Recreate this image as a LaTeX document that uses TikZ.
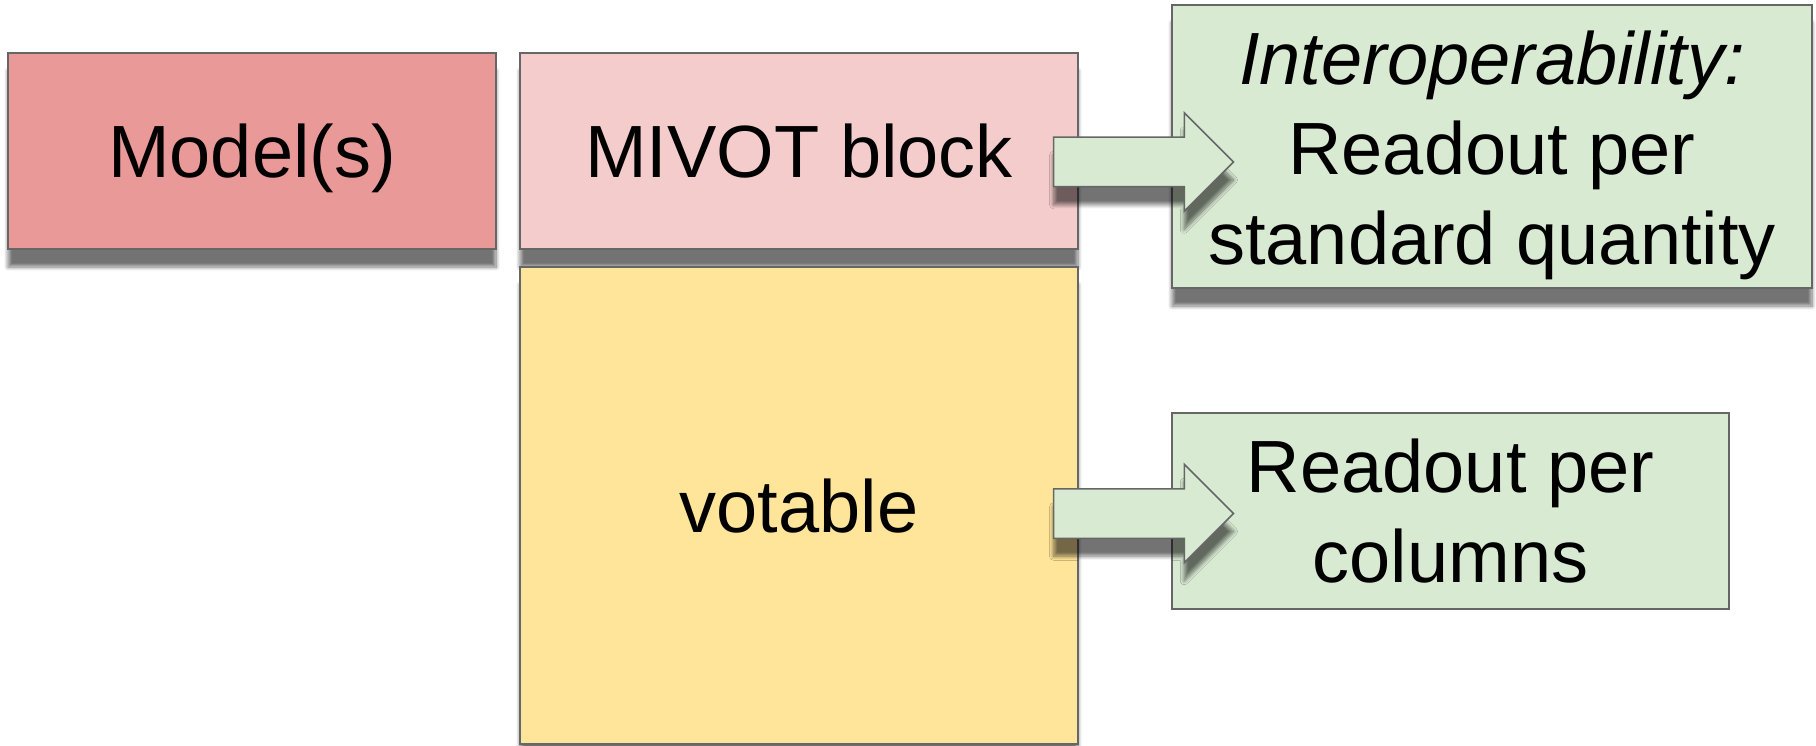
\documentclass[tikz,border=0pt]{standalone}
\usepackage{fontspec}
\setmainfont{Liberation Sans}
\usetikzlibrary{shapes.arrows,shadows.blur,calc}

\definecolor{boxline}{HTML}{666666}
\definecolor{modelfill}{HTML}{EA9999}
\definecolor{mivotfill}{HTML}{F4CCCC}
\definecolor{tablefill}{HTML}{FFE599}
\definecolor{readfill}{HTML}{D9EAD3}

\begin{document}
\begin{tikzpicture}[x=1pt,y=-1pt,
  softshadow/.style={blur shadow={shadow xshift=0pt, shadow yshift=-18pt,
      shadow blur radius=4pt, shadow blur steps=8, shadow opacity=55}},
  panel/.style={rectangle, draw=boxline, line width=1.5pt, inner sep=0pt},
  caption/.style={inner sep=0pt, align=center, anchor=base,
      font=\fontsize{74}{90}\selectfont},
  blockarrow/.style={single arrow, draw=boxline, fill=readfill, line width=1.5pt,
      minimum height=180pt, inner sep=0pt, inner ysep=24pt,
      single arrow head extend=24.5pt, anchor=tail, softshadow}
]
\useasboundingbox (0,0) rectangle (1816,746);

% left-hand blocks
\node[panel, fill=modelfill, softshadow, minimum width=488pt, minimum height=196pt]
  (model) at (252,151) {};
\node[panel, fill=mivotfill, softshadow, minimum width=558pt, minimum height=196pt]
  (mivot) at (799,151) {};
\node[panel, fill=tablefill, softshadow, minimum width=558pt, minimum height=477pt]
  (votable) at (799,505.5) {};

% readout boxes
\node[panel, fill=readfill, softshadow, minimum width=640pt, minimum height=283pt]
  (interop) at (1492,146.5) {};
\node[panel, fill=readfill, minimum width=557pt, minimum height=196pt]
  (percol) at (1450.5,511) {};

% labels (multi-line labels sit on the baseline of their last line)
\node[caption] (modeltxt) at ($(model.center)+(0,27)$) {Model(s)};
\node[caption] (mivottxt) at ($(mivot.center)+(0,27)$) {MIVOT block};
\node[caption] (votabletxt) at ($(votable.center)+(0,27)$) {votable};
\node[caption] (interoptxt) at ($(interop.center)+(0,118.5)$)
  {\textit{Interoperability:}\\Readout per\\standard quantity};
\node[caption] (percoltxt) at ($(percol.center)+(0,71)$)
  {Readout per\\columns};

% block arrows from the blocks to the readouts
\node[blockarrow] (arrtop) at ($(mivot.east)+(-26,11)$) {};
\node[blockarrow] (arrbot) at ($(votable.east)+(-26,8)$) {};
\end{tikzpicture}
\end{document}
